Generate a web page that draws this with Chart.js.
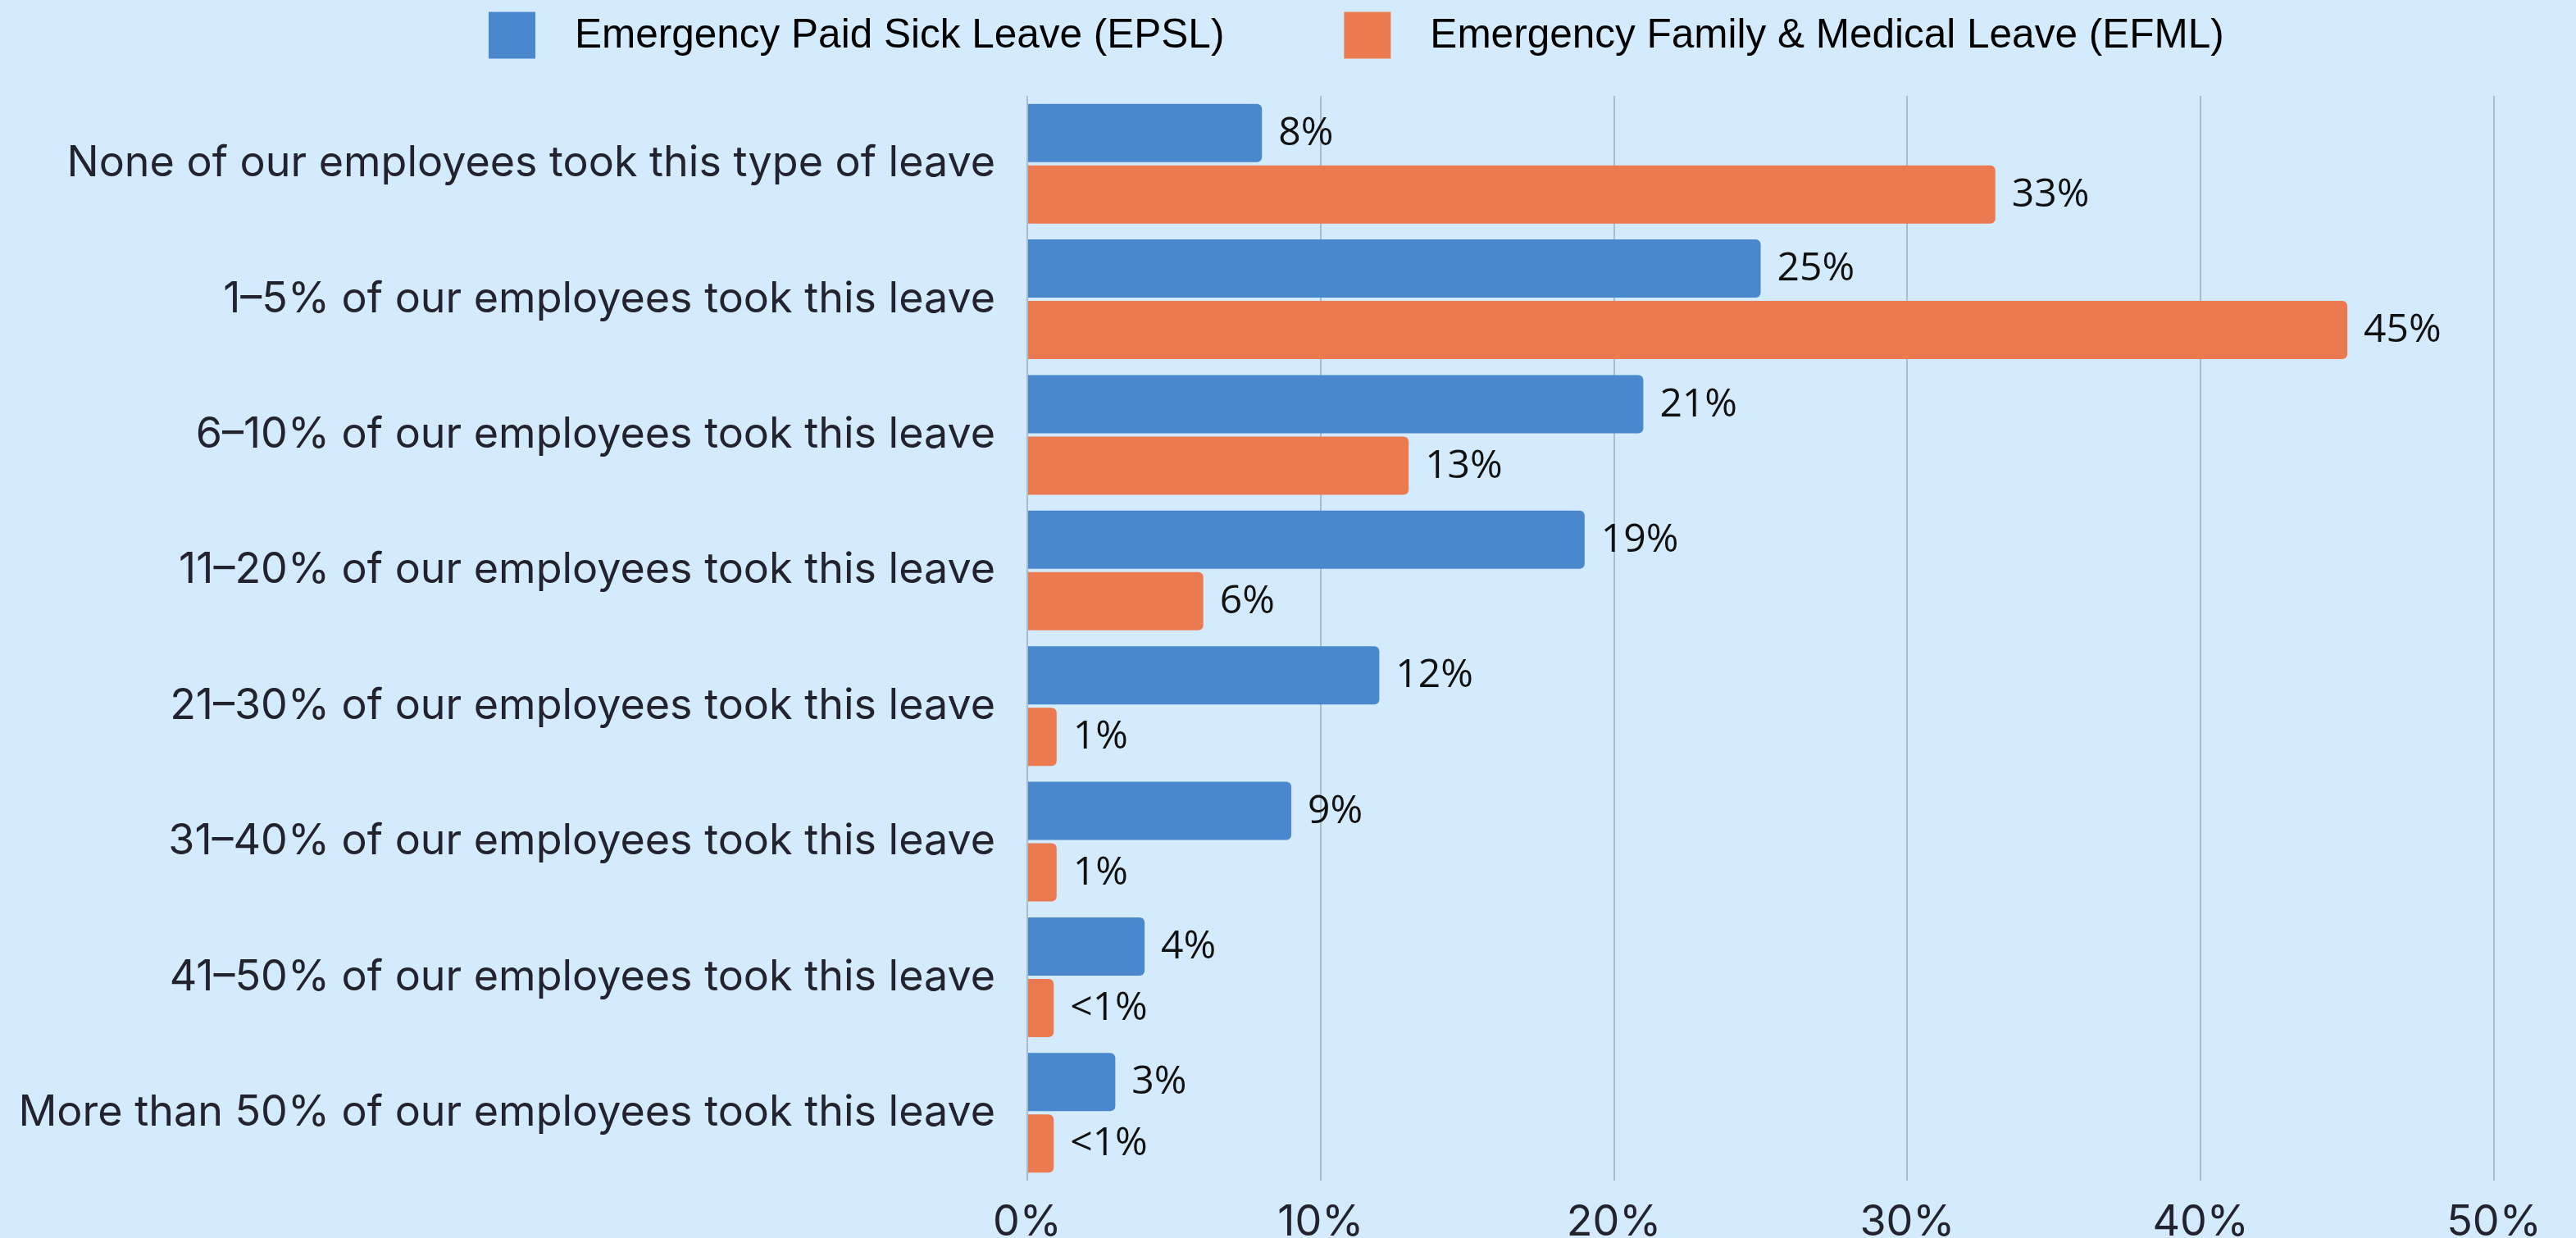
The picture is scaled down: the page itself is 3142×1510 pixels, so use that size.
<!DOCTYPE html>
<html lang="en">
<head>
    <meta charset="UTF-8">
    <title>Emergency leave usage</title>
    <script src="https://cdn.jsdelivr.net/npm/chart.js@4.4.1/dist/chart.umd.min.js"></script>
    <style>
        html, body { margin: 0; padding: 0; background: #d4ebfd; }
        #wrap { width: 3142px; height: 1510px; }
    </style>
</head>
<body>
    <div id="wrap"><canvas id="myChart" width="3142" height="1510"></canvas></div>
    <script>
        var categories = [
            'None of our employees took this type of leave',
            '1\u20135% of our employees took this leave',
            '6\u201310% of our employees took this leave',
            '11\u201320% of our employees took this leave',
            '21\u201330% of our employees took this leave',
            '31\u201340% of our employees took this leave',
            '41\u201350% of our employees took this leave',
            'More than 50% of our employees took this leave'
        ];
        var epsl = [8, 25, 21, 19, 12, 9, 4, 3];
        var efml = [33, 45, 13, 6, 1, 1, 0.9, 0.9];
        var epslText = ['8%', '25%', '21%', '19%', '12%', '9%', '4%', '3%'];
        var efmlText = ['33%', '45%', '13%', '6%', '1%', '1%', '<1%', '<1%'];
        var xTicks = [0, 10, 20, 30, 40, 50];

        var BLUE = '#4a88cd';
        var ORANGE = '#ec7a50';

        // value text at the end of every bar
        var barText = {
            id: 'barText',
            afterDatasetsDraw: function(chart) {
                var ctx = chart.ctx;
                ctx.save();
                ctx.font = '48px "Open Sans"';
                ctx.fillStyle = '#111111';
                ctx.textAlign = 'left';
                ctx.textBaseline = 'middle';
                chart.data.datasets.forEach(function(ds, i) {
                    chart.getDatasetMeta(i).data.forEach(function(bar, j) {
                        ctx.fillText(ds.valueText[j], bar.x + 20, bar.y + 1);
                    });
                });
                ctx.restore();
            }
        };

        // legend row across the top
        var topLegend = {
            id: 'topLegend',
            afterDraw: function(chart) {
                var ctx = chart.ctx;
                var x = 596, box = 57, cy = 43;
                ctx.save();
                ctx.font = '49.5px "Liberation Sans"';
                ctx.textBaseline = 'middle';
                ctx.textAlign = 'left';
                chart.data.datasets.forEach(function(ds) {
                    ctx.fillStyle = ds.backgroundColor;
                    ctx.fillRect(x, cy - box / 2, box, box);
                    ctx.fillStyle = '#000000';
                    ctx.fillText(ds.label, x + box + 48, cy + 1);
                    x += box + 48 + ctx.measureText(ds.label).width + 146;
                });
                ctx.restore();
            }
        };

        var ctx = document.getElementById('myChart').getContext('2d');
        var chart = new Chart(ctx, {
            type: 'bar',
            data: {
                labels: categories,
                datasets: [{
                    label: 'Emergency Paid Sick Leave (EPSL)',
                    data: epsl,
                    valueText: epslText,
                    backgroundColor: BLUE,
                    borderRadius: 6,
                    categoryPercentage: 0.907,
                    barPercentage: 0.947
                }, {
                    label: 'Emergency Family & Medical Leave (EFML)',
                    data: efml,
                    valueText: efmlText,
                    backgroundColor: ORANGE,
                    borderRadius: 6,
                    categoryPercentage: 0.907,
                    barPercentage: 0.947
                }]
            },
            options: {
                indexAxis: 'y',
                responsive: false,
                animation: false,
                devicePixelRatio: 1,
                layout: { padding: { top: 117, right: 100, left: 0, bottom: 0 } },
                plugins: {
                    legend: { display: false },
                    tooltip: { enabled: false }
                },
                scales: {
                    x: {
                        min: 0,
                        max: 50,
                        afterBuildTicks: function(scale) {
                            scale.ticks = xTicks.map(function(v) { return { value: v }; });
                        },
                        afterFit: function(scale) { scale.height = 70; },
                        grid: { color: '#a9bdcc', lineWidth: 2, drawTicks: false },
                        border: { display: false },
                        ticks: {
                            padding: 20,
                            color: '#23232f',
                            font: { family: 'Inter', size: 52 },
                            callback: function(v) { return v + '%'; }
                        }
                    },
                    y: {
                        afterFit: function(scale) { scale.width = 1253; },
                        grid: { display: false },
                        border: { display: false },
                        ticks: {
                            padding: 31,
                            color: '#23232f',
                            font: { family: 'Inter', size: 52 }
                        }
                    }
                }
            },
            plugins: [barText, topLegend]
        });
    </script>
</body>
</html>
